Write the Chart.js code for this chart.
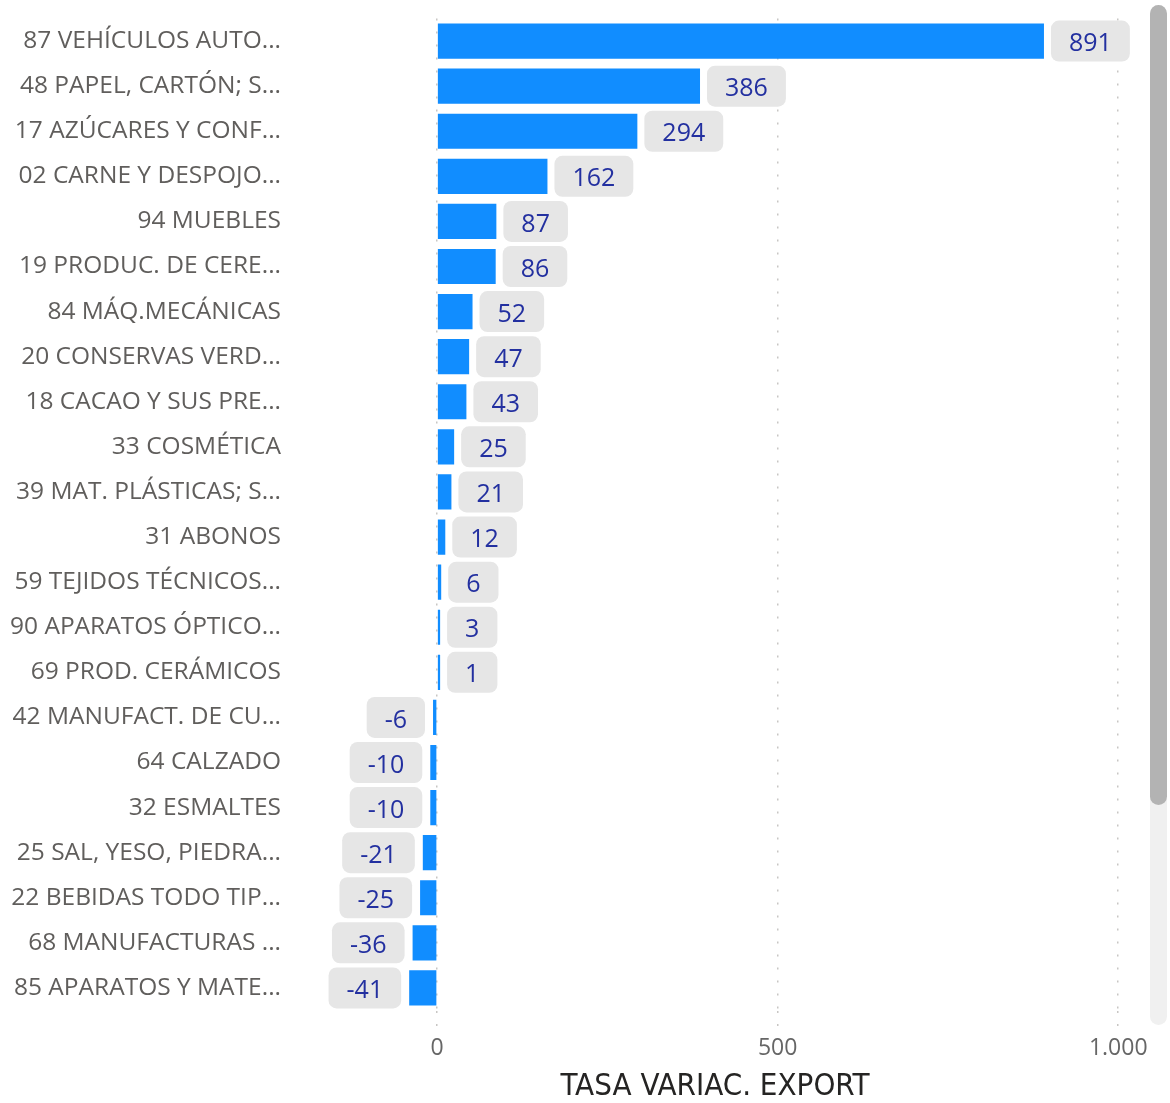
<!DOCTYPE html>
<html>
<head>
<meta charset="utf-8">
<script src="https://cdn.jsdelivr.net/npm/chart.js@4"></script>
<style>
    body { margin: 0; background: #fff; overflow: hidden; }
    #wrap { position: relative; width: 1170px; height: 1103px; }
    #scroll-track { position: absolute; left: 1150px; top: 5px; width: 17px; height: 1020px; background: #F0F0F0; border-radius: 9px; }
    #scroll-thumb { position: absolute; left: 1150px; top: 5px; width: 17px; height: 800px; background: #B3B3B3; border-radius: 9px; }
</style>
</head>
<body>
<div id="wrap">
    <canvas id="exportChart" width="1170" height="1103"></canvas>
    <div id="scroll-track"></div>
    <div id="scroll-thumb"></div>
</div>
<script>
const categories = [
    '87 VEHÍCULOS AUTO...',
    '48 PAPEL, CARTÓN; S...',
    '17 AZÚCARES Y CONF...',
    '02 CARNE Y DESPOJO...',
    '94 MUEBLES',
    '19 PRODUC. DE CERE...',
    '84 MÁQ.MECÁNICAS',
    '20 CONSERVAS VERD...',
    '18 CACAO Y SUS PRE...',
    '33 COSMÉTICA',
    '39 MAT. PLÁSTICAS; S...',
    '31 ABONOS',
    '59 TEJIDOS TÉCNICOS...',
    '90 APARATOS ÓPTICO...',
    '69 PROD. CERÁMICOS',
    '42 MANUFACT. DE CU...',
    '64 CALZADO',
    '32 ESMALTES',
    '25 SAL, YESO, PIEDRA...',
    '22 BEBIDAS TODO TIP...',
    '68 MANUFACTURAS ...',
    '85 APARATOS Y MATE...'
];
const tasaVariac = [891, 386, 294, 162, 87, 86, 52, 47, 43, 25, 21, 12, 6, 3, 1, -6, -10, -10, -21, -25, -36, -41];
const xTicks = [0, 500, 1000];
const axisTitle = 'TASA VARIAC. EXPORT';

document.addEventListener('DOMContentLoaded', (event) => {
    const fmt = (v) => String(v).replace(/\B(?=(\d{3})+(?!\d))/g, '.');

    // grey pill labels next to each bar
    const valueLabels = {
        id: 'valueLabels',
        afterDatasetsDraw(chart) {
            const c = chart.ctx;
            const meta = chart.getDatasetMeta(0);
            c.save();
            c.font = '25px "Open Sans"';
            c.textBaseline = 'middle';
            c.textAlign = 'center';
            meta.data.forEach((bar, i) => {
                const v = tasaVariac[i];
                const txt = fmt(v);
                const w = c.measureText(txt).width + 36;
                const h = 41;
                let left;
                if (v >= 0) {
                    left = bar.x + 7;
                } else {
                    left = bar.x - 8 - w;
                }
                c.fillStyle = '#E6E6E6';
                c.beginPath();
                c.roundRect(left, bar.y - h / 2, w, h, 8);
                c.fill();
                c.fillStyle = '#2330A0';
                c.fillText(txt, left + w / 2, bar.y + 3);
            });
            c.restore();
        }
    };

    const ctx = document.getElementById('exportChart').getContext('2d');
    const chart = new Chart(ctx, {
        type: 'bar',
        data: {
            labels: categories,
            datasets: [{
                label: axisTitle,
                data: tasaVariac,
                backgroundColor: '#118DFF',
                borderWidth: 0,
                barPercentage: 0.78,
                categoryPercentage: 1,
                minBarLength: 3
            }]
        },
        options: {
            indexAxis: 'y',
            responsive: false,
            animation: false,
            layout: {
                padding: { top: 18.5, right: 30, bottom: 0, left: 0 }
            },
            plugins: {
                legend: { display: false },
                tooltip: { enabled: false }
            },
            scales: {
                x: {
                    min: -216,
                    max: 1032,
                    afterBuildTicks: (scale) => {
                        scale.ticks = xTicks.map(v => ({ value: v }));
                    },
                    afterFit: (scale) => {
                        scale.height = 92.5;
                        scale.paddingLeft = 0;
                        scale.paddingRight = 0;
                    },
                    grid: {
                        color: '#C8C6C4',
                        lineWidth: 1.5,
                        tickLength: 20,
                        tickBorderDash: [2, 11],
                        tickColor: '#C8C6C4'
                    },
                    border: { display: false, dash: [2, 11] },
                    ticks: {
                        padding: 4,
                        color: '#666666',
                        font: { family: '"Open Sans"', size: 23 },
                        callback: (v) => fmt(v)
                    },
                    title: {
                        display: true,
                        text: axisTitle,
                        color: '#252423',
                        font: { family: '"DejaVu Sans Condensed"', size: 31, lineHeight: 1 },
                        padding: { top: 0, bottom: 1 }
                    }
                },
                y: {
                    afterFit: (scale) => {
                        scale.width = 290;
                        scale.paddingTop = 0;
                        scale.paddingBottom = 0;
                    },
                    border: { display: false },
                    grid: { display: false, drawTicks: false },
                    ticks: {
                        padding: 9,
                        color: '#605E5C',
                        font: { family: '"Open Sans"', size: 24.5 }
                    }
                }
            }
        },
        plugins: [valueLabels]
    });
});
</script>
</body>
</html>
